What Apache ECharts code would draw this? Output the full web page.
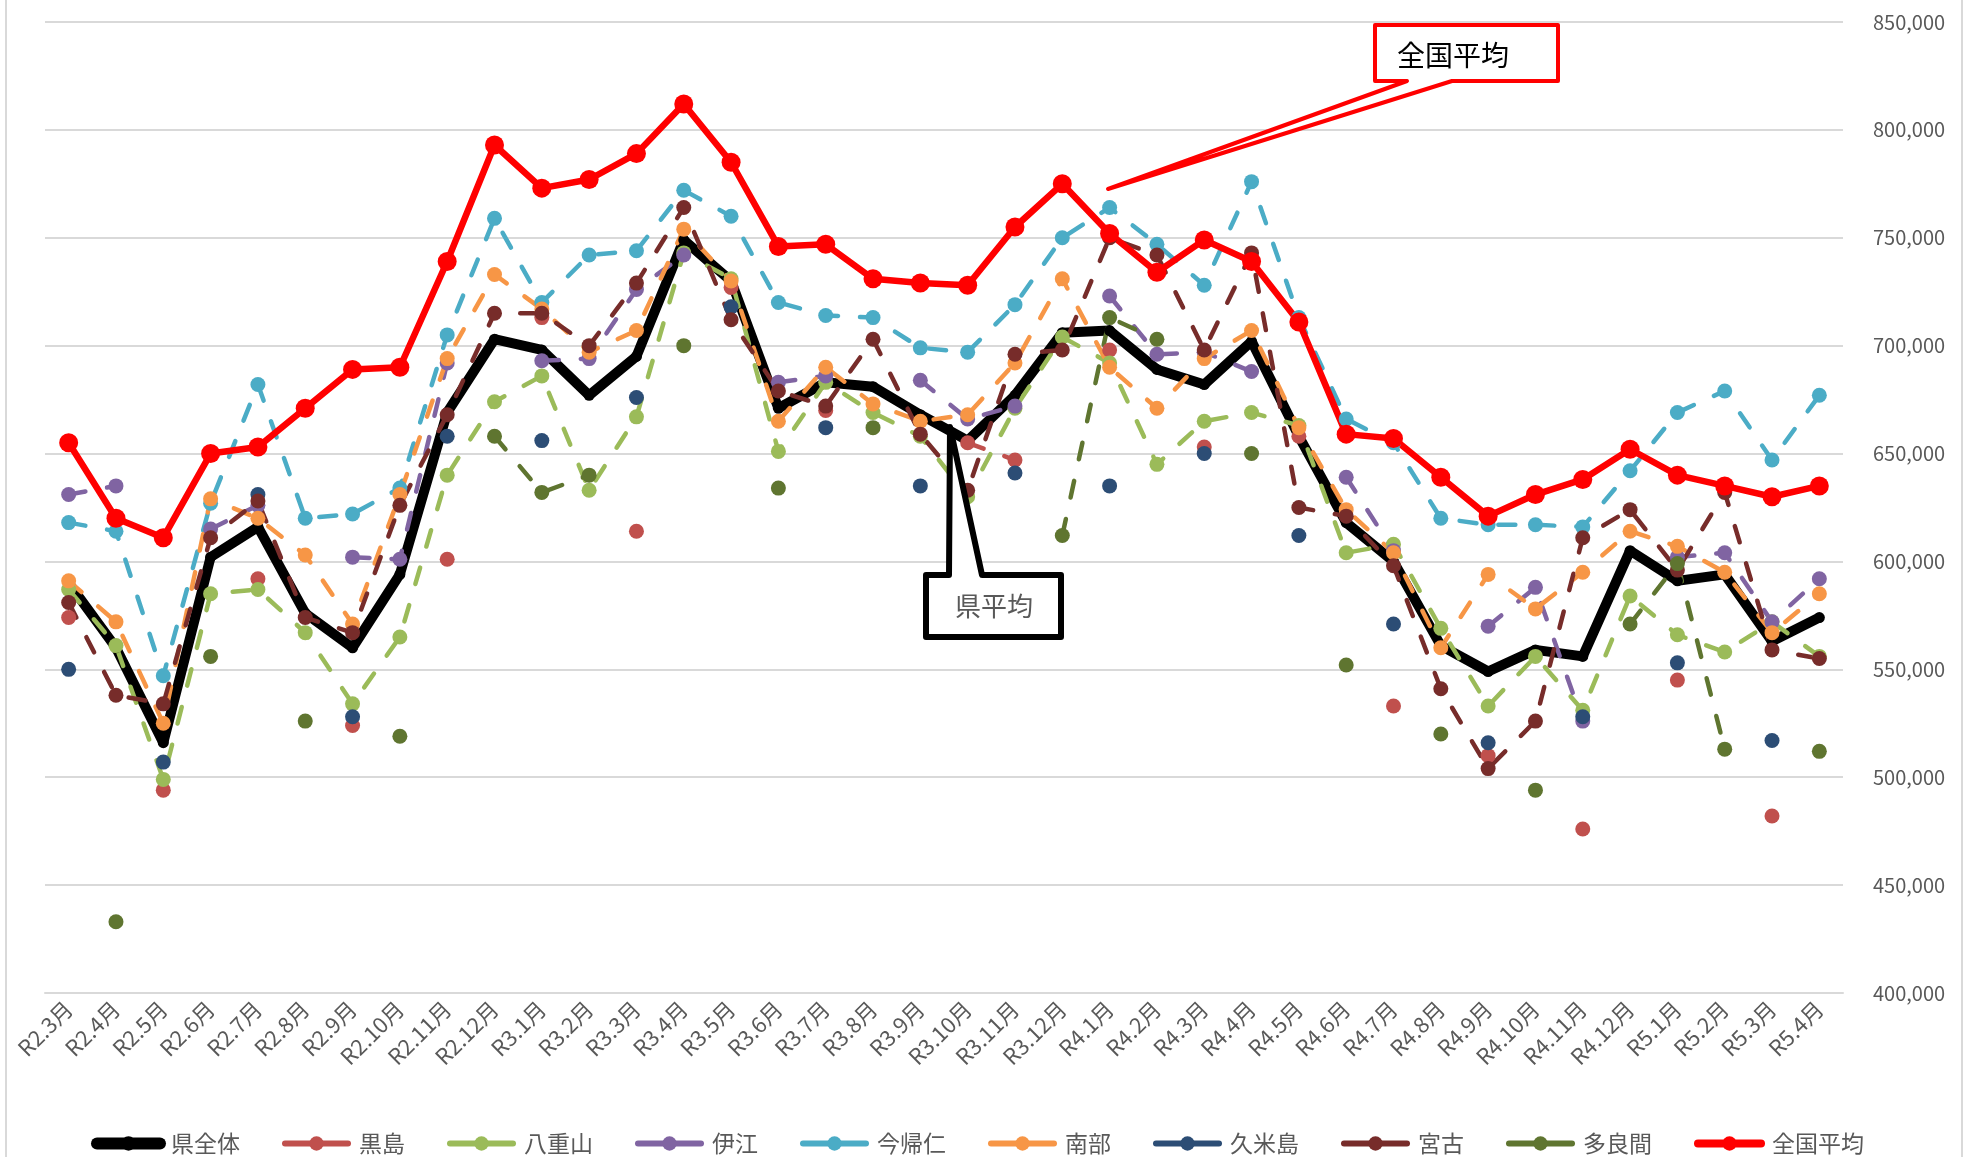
<!DOCTYPE html>
<html>
<head>
<meta charset="UTF-8"/>
<title></title>
<script src="https://cdn.jsdelivr.net/npm/echarts@6/dist/echarts.min.js"></script>
<style>
html,body{margin:0;padding:0;background:#fff;}
#main{width:1973px;height:1157px;}
</style>
</head>
<body>
<div id="main"></div>
<script>
var months = ['R2.3月','R2.4月','R2.5月','R2.6月','R2.7月','R2.8月','R2.9月','R2.10月','R2.11月','R2.12月',
  'R3.1月','R3.2月','R3.3月','R3.4月','R3.5月','R3.6月','R3.7月','R3.8月','R3.9月','R3.10月','R3.11月','R3.12月',
  'R4.1月','R4.2月','R4.3月','R4.4月','R4.5月','R4.6月','R4.7月','R4.8月','R4.9月','R4.10月','R4.11月','R4.12月',
  'R5.1月','R5.2月','R5.3月','R5.4月'];

// 単位：千円 → 描画時に *1000
var kenAll   = [590,560,516,602,616,576,560,594,669,703, 698,677,695,749,730,671,683,681,668,656,677,706,
                707,689,682,702,658,618,600,561,549,559,556,605, 591,594,563,574];
var kuroshima= [574,null,494,null,592,null,524,null,601,null, 713,null,614,null,727,null,670,null,null,655,647,null,
                698,null,653,null,658,null,533,null,510,null,476,null, 545,null,482,null];
var yaeyama  = [587,561,499,585,587,567,534,565,640,674, 686,633,667,743,731,651,683,669,658,630,671,704,
                692,645,665,669,663,604,608,569,533,556,531,584, 566,558,572,556];
var ie       = [631,635,null,615,626,null,602,601,692,null, 693,694,726,742,null,683,686,null,684,666,672,null,
                723,696,697,688,null,639,605,null,570,588,526,null, 602,604,572,592];
var nakijin  = [618,614,547,627,682,620,622,634,705,759, 720,742,744,772,760,720,714,713,699,697,719,750,
                764,747,728,776,713,666,655,620,617,617,616,642, 669,679,647,677];
var nanbu    = [591,572,525,629,620,603,571,631,694,733, 717,697,707,754,730,665,690,673,665,668,692,731,
                690,671,694,707,662,624,604,560,594,578,595,614, 607,595,567,585];
var kume     = [550,null,507,null,631,null,528,null,658,null, 656,null,676,null,718,null,662,null,635,null,641,null,
                635,null,650,null,612,null,571,null,516,null,528,null, 553,null,517,null];
var miyako   = [581,538,534,611,628,574,567,626,668,715, 715,700,729,764,712,679,672,703,659,633,696,698,
                750,742,698,743,625,621,598,541,504,526,611,624, 596,632,559,555];
var tarama   = [null,433,null,556,null,526,null,519,null,658, 632,640,null,700,null,634,null,662,null,null,null,612,
                713,703,null,650,null,552,null,520,null,494,null,571, 599,513,null,512];
var zenkoku  = [655,620,611,650,653,671,689,690,739,793, 773,777,789,812,785,746,747,731,729,728,755,775,
                752,734,749,739,711,659,657,639,621,631,638,652, 640,635,630,635];

var yTicks = [400000, 850000, 50000];

function k(arr) {
  return arr.map(function (v) { return v == null ? null : v * 1000; });
}

var FONT = "'Noto Sans CJK JP', sans-serif";

function dashed(name, color, data) {
  return {
    name: name, type: 'line', data: k(data),
    symbol: 'circle', symbolSize: 15, showAllSymbol: true, connectNulls: false,
    itemStyle: { color: color },
    lineStyle: { color: color, width: 4.5, type: [17, 22], cap: 'round' },
    emphasis: { disabled: true }
  };
}

var legendNames = ['県全体','黒島','八重山','伊江','今帰仁','南部','久米島','宮古','多良間','全国平均'];

var myChart = echarts.init(document.getElementById('main'));

var option = {
  backgroundColor: '#ffffff',
  animation: false,
  textStyle: { fontFamily: FONT },
  grid: { left: 45, right: 130, top: 22, bottom: 164 },
  legend: {
    left: 86, top: 1127,
    itemWidth: 63, itemHeight: 18, itemGap: 42,
    lineStyle: { type: 'solid', width: 6, cap: 'round' },
    textStyle: { fontSize: 23, color: '#595959', fontFamily: FONT, padding: [0, 0, 0, 6] },
    data: legendNames.map(function (n) {
      if (n === '県全体') return { name: n, lineStyle: { width: 12, type: 'solid', cap: 'round' } };
      if (n === '全国平均') return { name: n, lineStyle: { width: 8, type: 'solid', cap: 'round' } };
      return { name: n };
    })
  },
  xAxis: {
    type: 'category',
    boundaryGap: true,
    data: months,
    axisTick: { show: false },
    axisLine: { lineStyle: { color: '#D9D9D9', width: 2 } },
    axisLabel: { interval: 0, rotate: 45, fontSize: 22, color: '#595959', margin: 12, fontFamily: FONT }
  },
  yAxis: {
    type: 'value',
    position: 'right',
    min: yTicks[0], max: yTicks[1], interval: yTicks[2],
    axisLine: { show: false },
    axisTick: { show: false },
    splitLine: { lineStyle: { color: '#D9D9D9', width: 2 } },
    axisLabel: {
      fontSize: 20, color: '#595959', margin: 30, fontFamily: FONT,
      formatter: function (v) { return String(v).replace(/\B(?=(\d{3})+(?!\d))/g, ','); }
    }
  },
  series: [
    {
      name: '県全体', type: 'line', data: k(kenAll),
      symbol: 'circle', symbolSize: 11, showAllSymbol: true,
      itemStyle: { color: '#000000' },
      lineStyle: { color: '#000000', width: 10 },
      emphasis: { disabled: true }
    },
    dashed('黒島', '#C0504D', kuroshima),
    dashed('八重山', '#9BBB59', yaeyama),
    dashed('伊江', '#8064A2', ie),
    dashed('今帰仁', '#4BACC6', nakijin),
    dashed('南部', '#F79646', nanbu),
    dashed('久米島', '#2C4D75', kume),
    dashed('宮古', '#772C2A', miyako),
    dashed('多良間', '#5F7530', tarama),
    {
      name: '全国平均', type: 'line', data: k(zenkoku),
      symbol: 'circle', symbolSize: 19, showAllSymbol: true,
      itemStyle: { color: '#FF0000' },
      lineStyle: { color: '#FF0000', width: 6.5 },
      emphasis: { disabled: true }
    }
  ],
  graphic: [
    {
      type: 'rect', z: -10, silent: true,
      shape: { x: 6, y: -10, width: 1956, height: 1180 },
      style: { fill: null, stroke: '#D9D9D9', lineWidth: 2 }
    },
    {
      type: 'polygon', z: 100,
      shape: { points: [[1375,25],[1558,25],[1558,81],[1452,81],[1108,189],[1407,81],[1375,81]] },
      style: { fill: '#ffffff', stroke: '#FF0000', lineWidth: 4, lineJoin: 'round' }
    },
    {
      type: 'text', z: 101, x: 1397, y: 55,
      style: { text: '全国平均', fontSize: 28, fill: '#000000', fontFamily: FONT, verticalAlign: 'middle' }
    },
    {
      type: 'polygon', z: 100,
      shape: { points: [[926,575],[949,575],[950,427],[982,575],[1061,575],[1061,637],[926,637]] },
      style: { fill: '#ffffff', stroke: '#000000', lineWidth: 6, lineJoin: 'round' }
    },
    {
      type: 'text', z: 101, x: 955, y: 606,
      style: { text: '県平均', fontSize: 26, fill: '#595959', fontFamily: FONT, verticalAlign: 'middle' }
    }
  ]
};

if (option && typeof option === "object") {
  myChart.setOption(option, true);
}
</script>
</body>
</html>
